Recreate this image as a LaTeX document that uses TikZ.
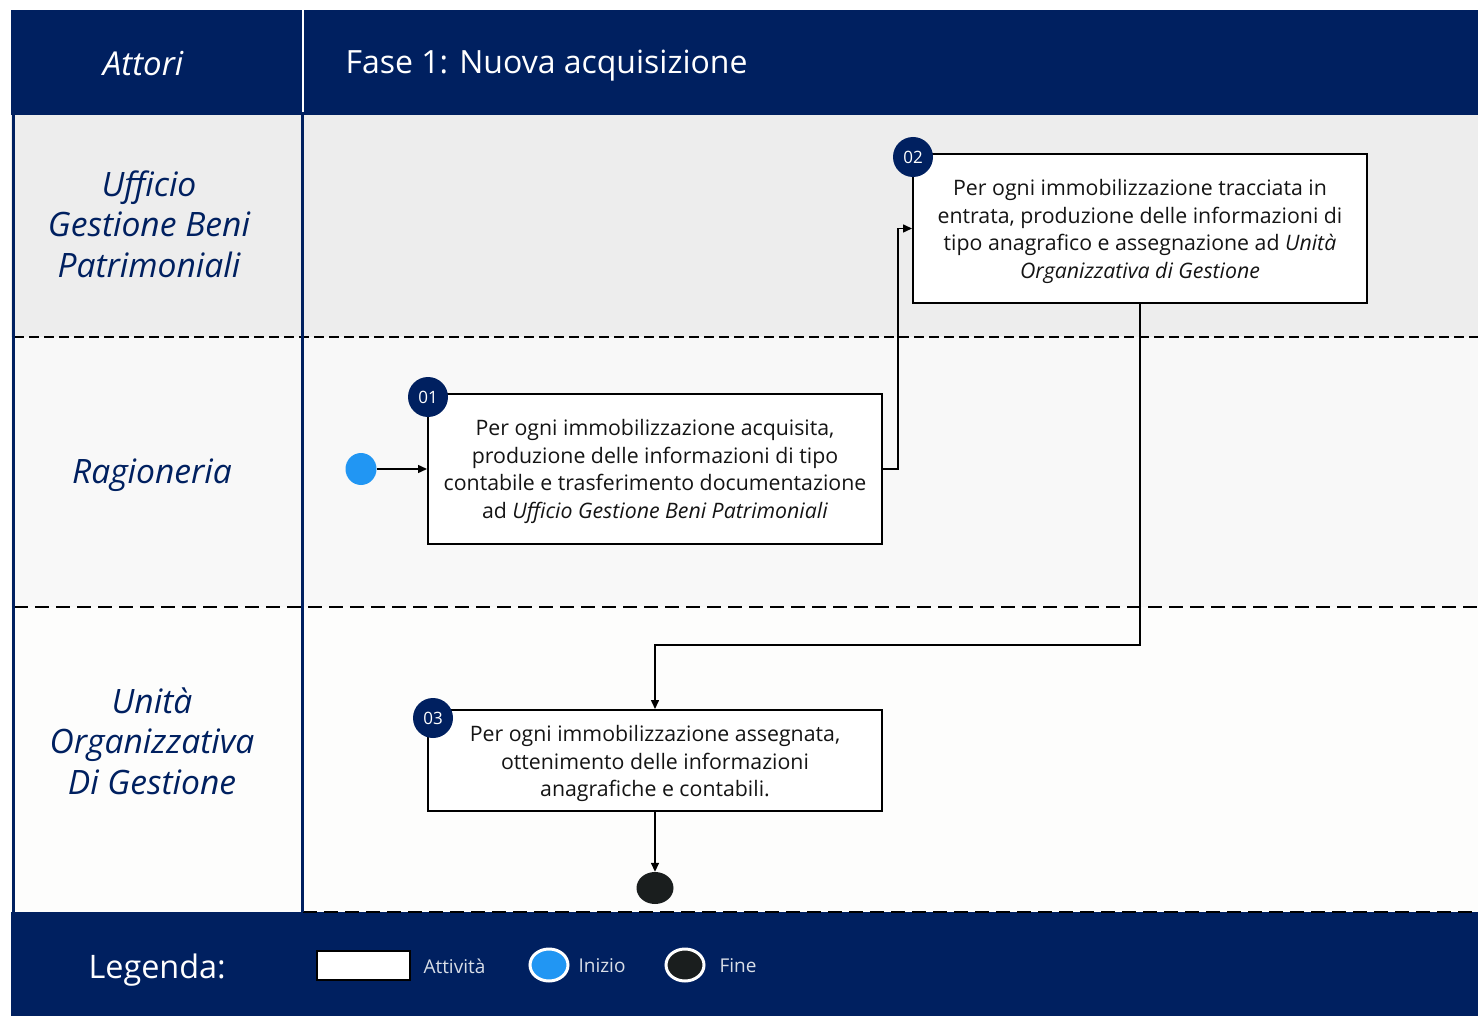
\documentclass[tikz,border=0pt]{standalone}
\usepackage{fontspec}
\setmainfont{Open Sans}
\usetikzlibrary{arrows.meta,shapes.geometric}
\definecolor{navy}{RGB}{0,32,96}
\definecolor{laneA}{RGB}{237,237,237}
\definecolor{laneB}{RGB}{248,248,248}
\definecolor{laneC}{RGB}{253,253,252}
\definecolor{startblue}{RGB}{33,150,243}
\definecolor{endblack}{RGB}{26,30,30}
\definecolor{txt}{RGB}{20,20,20}
\tikzset{
  actbox/.style={draw=black, line width=2pt, fill=white, minimum width=454pt, inner sep=0pt},
  acttext/.style={text=txt, align=center, inner sep=0pt, font=\fontsize{21.3}{27.4}\selectfont},
  badge/.style={circle, fill=navy, minimum size=40pt, inner sep=0pt, text=white,
     font=\fontsize{17}{18}\selectfont},
  conn/.style={line width=1.5pt, -{Triangle[length=9pt,width=8pt]}},
  lanelabel/.style={text=navy, align=center, font=\fontsize{33.6}{40.5}\selectfont\itshape},
  lanesep/.style={line width=1.5pt},
  legtext/.style={text=white!85!navy, anchor=west, font=\fontsize{19}{22}\selectfont},
}
\begin{document}
\begin{tikzpicture}[x=1pt,y=-1pt]
\useasboundingbox (0,0) rectangle (1478,1016);
\fill[white] (0,0) rectangle (1478,1016);
% bands
\fill[navy] (11,10) rectangle (1478,115);
\fill[laneA] (11,115) rectangle (1478,337);
\fill[laneB] (11,337) rectangle (1478,607);
\fill[laneC] (11,607) rectangle (1478,912);
\fill[navy] (11,912) rectangle (1478,1016);
% header separator
\draw[white, line width=2pt] (303,10) -- (303,112);
% lane separators
\draw[lanesep, dash pattern=on 10pt off 5pt] (14,337) -- (1478,337);
\draw[lanesep, dash pattern=on 14pt off 7pt] (14,607) -- (1478,607);
\draw[lanesep, dash pattern=on 14pt off 7pt] (303,912) -- (1478,912);
% actor column borders
\draw[navy, line width=3pt] (13,115) -- (13,912);
\draw[navy, line width=3pt] (302,115) -- (302,912);
% header texts
\node[text=white, font=\fontsize{33}{36}\selectfont\itshape] (hattori) at (143,64) {Attori};
\node[text=white, anchor=west, font=\fontsize{32}{36}\selectfont] (hfase) at (342,66) {Fase 1: Nuova acquisizione};
% lane labels
\node[lanelabel] (l1) at (149,224) {Ufficio\\Gestione Beni\\Patrimoniali};
\node[lanelabel] (l2) at (152,475) {Ragioneria};
\node[lanelabel] (l3) at (152,741) {Unità\\Organizzativa\\Di Gestione};
% activities
\node[actbox, minimum height=150pt] (b1) at (655,469) {};
\node[acttext] (t1) at (655,471.5)
  {Per ogni immobilizzazione acquisita,\\produzione delle informazioni di tipo\\contabile e trasferimento documentazione\\ad \textit{Ufficio Gestione Beni Patrimoniali}};
\node[actbox, minimum height=149pt] (b2) at (1140,228.5) {};
\node[acttext] (t2) at (1140,231.5)
  {Per ogni immobilizzazione tracciata in\\entrata, produzione delle informazioni di\\tipo anagrafico e assegnazione ad \textit{Unità}\\\textit{Organizzativa di Gestione}};
\node[actbox, minimum height=101pt] (b3) at (655,760.5) {};
\node[acttext] (t3) at (655,763.5)
  {Per ogni immobilizzazione assegnata,\\ottenimento delle informazioni\\anagrafiche e contabili.};
% badges
\node[badge] (n1) at (428,397) {01};
\node[badge] (n2) at (913,157) {02};
\node[badge] (n3) at (433,718) {03};
% start / end
\node[ellipse, fill=startblue, minimum width=31pt, minimum height=32pt, inner sep=0pt] (st) at (361,469) {};
\node[ellipse, fill=endblack, minimum width=37pt, minimum height=32pt, inner sep=0pt] (en) at (655,888) {};
% connectors
\draw[conn] (st) -- (b1);
\draw[conn] (b1.east) -- ++(15,0) |- (b2.west);
\draw[conn] (b2.south) -- ++(0,341) -| (b3.north);
\draw[conn] (b3.south) -- (en.north);
% legend
\node[text=white, anchor=west, font=\fontsize{32.4}{36}\selectfont] (leg) at (85,970) {Legenda:};
\node[draw=black, fill=white, line width=2pt, minimum width=93pt, minimum height=29pt, inner sep=0pt] (lact) at (363.5,965.5) {};
\node[legtext] (tact) at (420,966) {Attività};
\node[ellipse, draw=white, line width=3pt, fill=startblue, minimum width=38pt, minimum height=32pt, inner sep=0pt] (lst) at (549,965) {};
\node[legtext] (tst) at (575,966) {Inizio};
\node[ellipse, draw=white, line width=3pt, fill=endblack, minimum width=38pt, minimum height=32pt, inner sep=0pt] (len) at (685,965) {};
\node[legtext] (ten) at (716,966) {Fine};
\end{tikzpicture}
\end{document}
